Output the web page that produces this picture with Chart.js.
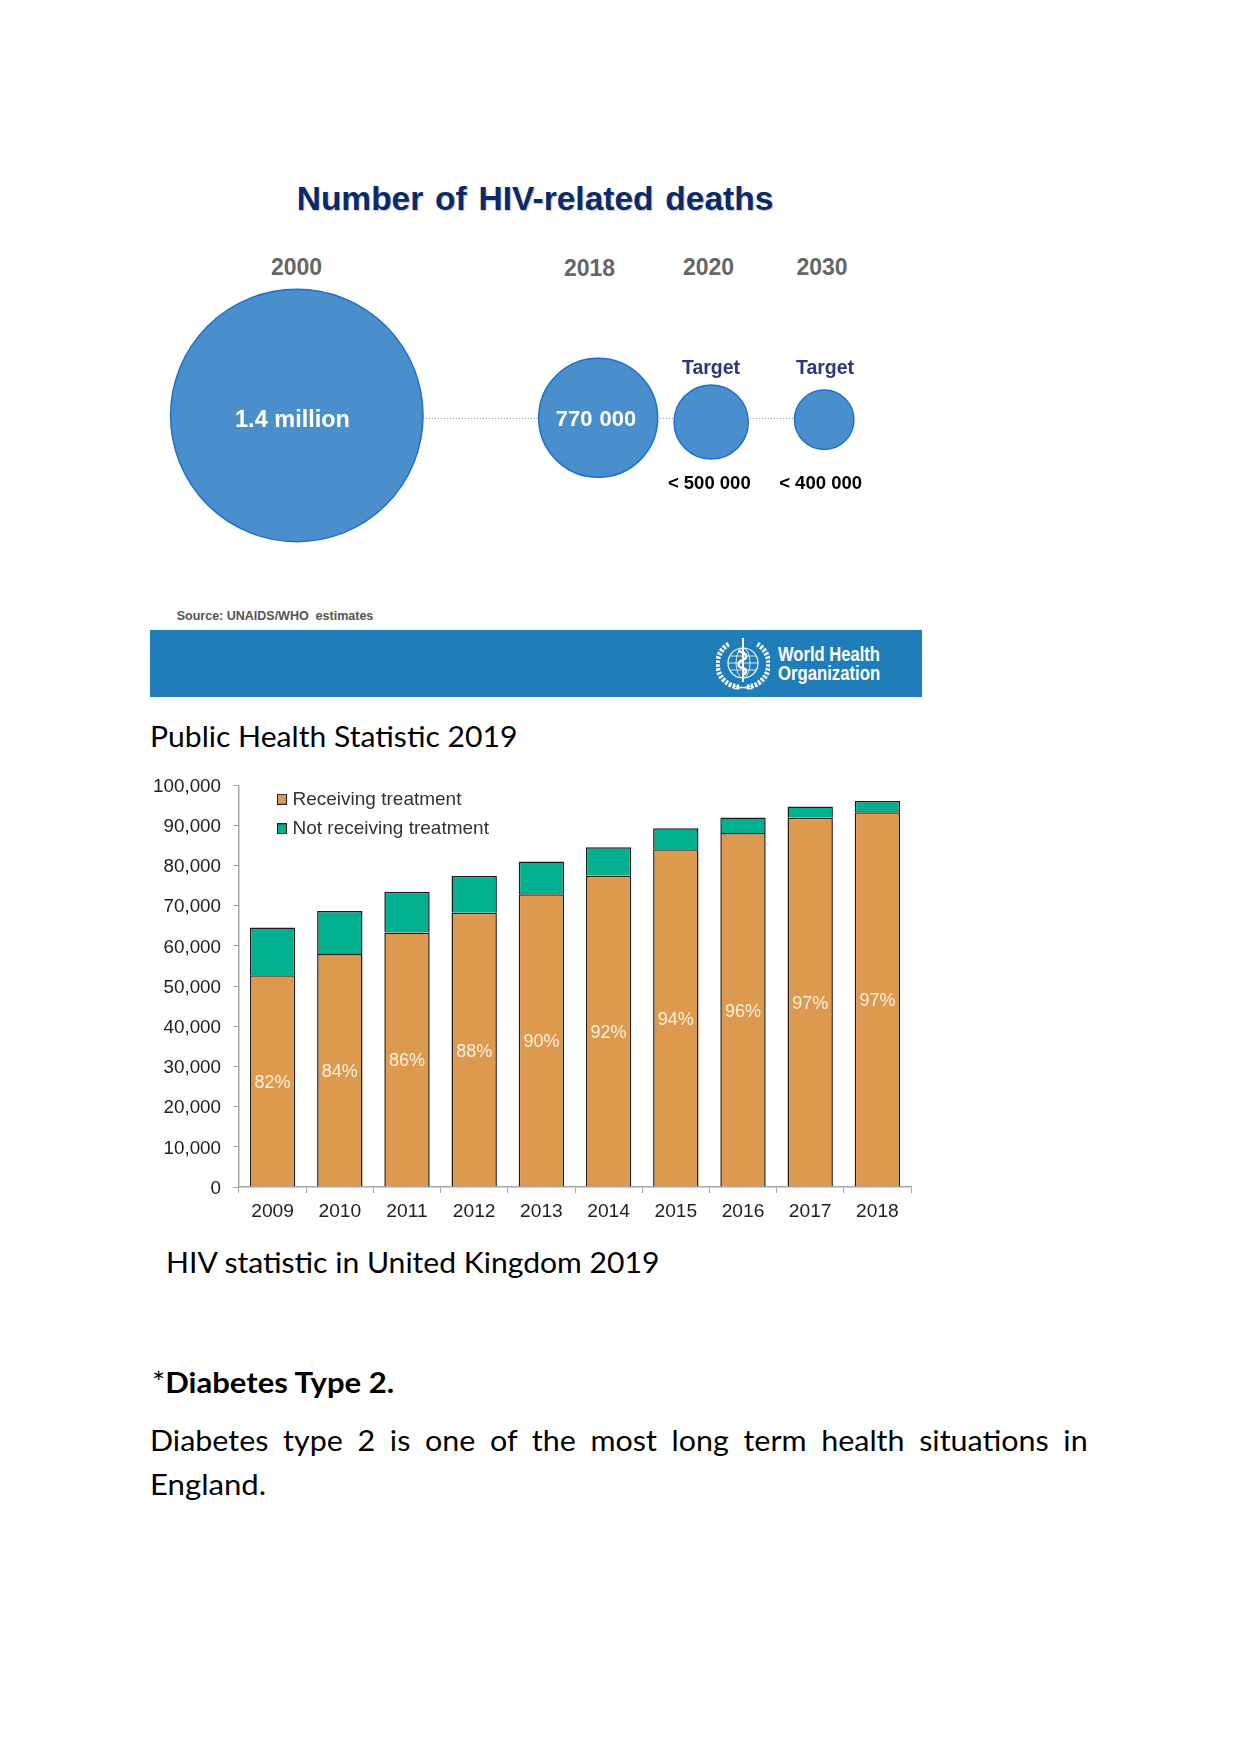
<!DOCTYPE html>
<html>
<head>
<meta charset="utf-8">
<title>HIV statistics</title>
<script src="https://cdn.jsdelivr.net/npm/chart.js@4"></script>
<style>
  html, body { margin: 0; background: #fff; }
  #page { position: relative; width: 1241px; height: 1754px; overflow: hidden; }
  #page canvas { position: absolute; }
  .t { position: absolute; white-space: pre; font-family: "Liberation Sans", Arial, sans-serif; font-weight: bold; line-height: 1; transform: translate(-50%, -50%); }
  .doc { position: absolute; white-space: pre; font-family: Lato, sans-serif; font-size: 29px; line-height: 1; color: #000; transform-origin: left center; margin-top: -15px; }
  .who { position: absolute; left: 778px; white-space: pre; font-family: "Liberation Sans", sans-serif; font-weight: bold; font-size: 19.5px; line-height: 1; color: #fff; transform-origin: left center; margin-top: -10px; }
  .year { font-size: 23px; color: #666; }
  .target { font-size: 19.5px; color: #2f3580; }
  .limit { font-size: 18.5px; color: #000; }
  .inbub { font-size: 23.5px; color: #fff; }
</style>
</head>
<body>
<div id="page">
  <div class="t" style="left:535px;top:199px;font-size:33.5px;color:#0b2a66;word-spacing:2.5px;text-shadow:1px 1px 1px rgba(60,90,160,.35)">Number of HIV-related deaths</div>

  <div class="t year" style="left:296.5px;top:267px">2000</div>
  <div class="t year" style="left:589.5px;top:268px">2018</div>
  <div class="t year" style="left:708.5px;top:267px">2020</div>
  <div class="t year" style="left:822px;top:266.5px">2030</div>

  <canvas id="deathsChart" width="770" height="280" style="left:150px;top:280px"></canvas>

  <div class="t inbub" style="left:292.5px;top:420px">1.4 million</div>
  <div class="t inbub" style="left:596px;top:419px;font-size:22px;word-spacing:1px">770 000</div>
  <div class="t target" style="left:711px;top:368px">Target</div>
  <div class="t target" style="left:825px;top:368px">Target</div>
  <div class="t limit" style="left:709.3px;top:483px">&lt; 500 000</div>
  <div class="t limit" style="left:820.6px;top:483px">&lt; 400 000</div>

  <div class="t" style="left:275px;top:616px;font-size:12.5px;color:#555">Source: UNAIDS/WHO  estimates</div>

  <div style="position:absolute;left:150px;top:630px;width:772px;height:67px;background:#1f7db9"></div>
  <svg style="position:absolute;left:716px;top:636px" width="54" height="54" viewBox="-27 -27 54 54" fill="none" stroke="#fff">
    <circle r="15" stroke-width="1.2"/>
    <ellipse rx="7" ry="15" stroke-width=".8"/>
    <path d="M-15 0H15M-13 -7H13M-13 7H13" stroke-width=".8"/>
    <path d="M0 -25V19" stroke-width="2"/>
    <path d="M-5 -12C5 -10 5 -5 0 -3C-6 -1 -6 4 0 5C4 6 4 10 0 12" stroke-width="2.4"/>
    <path d="M-4 24A23 23 0 0 1 -14 -19" stroke-width="5" stroke-dasharray="2.5 1.5"/>
    <path d="M4 24A23 23 0 0 0 14 -19" stroke-width="5" stroke-dasharray="2.5 1.5"/>
    <path d="M-9 23L9 26M9 23L-9 26" stroke-width="1.2"/>
  </svg>
  <div class="who fit" data-w="102" style="top:655px">World Health</div>
  <div class="who fit" data-w="102" style="top:673.5px">Organization</div>

  <div class="doc fit" data-w="368" style="left:150px;top:736px">Public Health Statistic 2019</div>

  <canvas id="ukChart" width="790" height="458" style="left:140px;top:762px"></canvas>

  <div class="doc fit" data-w="493" style="left:165.5px;top:1262px">HIV statistic in United Kingdom 2019</div>
  <div class="doc fit" data-w="242" style="left:152px;top:1382px">*<b>Diabetes Type 2.</b></div>
  <div class="doc" style="left:150px;top:1440px;width:893px;white-space:normal;text-align:justify;text-align-last:justify;transform:scaleX(1.05)">Diabetes type 2 is one of the most long term health situations in</div>
  <div class="doc fit" data-w="116" style="left:150px;top:1484px">England.</div>
</div>

<script>
// deaths figure
const timeline = ['2000', '', '', '', '', '', '', '', '2018', '', '', '2020', '', '', '2030'];
const bubbleYears = ['2000', '2018', '2020', '2030'];
const deaths = [1400000, 770000, 500000, 400000];

// UK figure
const years = ['2009', '2010', '2011', '2012', '2013', '2014', '2015', '2016', '2017', '2018'];
const receiving = [52700, 58000, 63350, 68250, 72900, 77450, 84100, 88150, 91900, 93300];
const notReceiving = [11900, 10700, 10150, 9150, 8100, 7150, 5200, 3850, 2800, 2800];
const percents = ['82%', '84%', '86%', '88%', '90%', '92%', '94%', '96%', '97%', '97%'];

// circle sizes and small vertical drift as drawn in the picture
const bubbleRadius = [126.2, 59.5, 37.1, 29.7];
const bubbleDrift = [4.5, 2.2, -2, 0.3];

Chart.defaults.font.family = '"Liberation Sans", Arial, sans-serif';
Chart.defaults.animation = false;

new Chart(document.getElementById('deathsChart'), {
  type: 'bubble',
  data: {
    labels: timeline,
    datasets: [
      {
        data: bubbleYears.map((y, i) => ({ x: y, y: bubbleDrift[i], deaths: deaths[i] })),
        radius: ctx => bubbleRadius[ctx.dataIndex],
        backgroundColor: '#4a8ecb',
        borderColor: '#1f6fd2',
        borderWidth: 1.5,
        clip: false,
        order: 1
      },
      {
        type: 'line',
        data: [{ x: '2000', y: 1.7 }, { x: '2030', y: 1.7 }],
        borderColor: '#7a7a7a',
        borderWidth: 1,
        borderDash: [1, 2],
        pointRadius: 0,
        clip: false,
        order: 2
      }
    ]
  },
  options: {
    responsive: false,
    layout: { autoPadding: false, padding: { left: 146.8, right: 95.8 } },
    plugins: { legend: { display: false }, tooltip: { enabled: false } },
    scales: {
      x: { type: 'category', display: false },
      y: { display: false, min: -140, max: 140 }
    }
  }
});

function swatch(color) {
  const c = document.createElement('canvas');
  c.width = 10;
  c.height = 11;
  const g = c.getContext('2d');
  g.fillStyle = color;
  g.fillRect(0, 0, 10, 11);
  g.strokeStyle = '#222';
  g.strokeRect(0.5, 0.5, 9, 10);
  return c;
}

const orange = '#dd9a4e';
const green = '#02af8e';
const swatches = [swatch(orange), swatch(green)];

// white percentages in the middle of the orange bars
const percentLabels = {
  id: 'percentLabels',
  afterDatasetsDraw(chart) {
    const ctx = chart.ctx;
    ctx.save();
    ctx.font = '18px "Liberation Sans"';
    ctx.fillStyle = '#fdf1df';
    ctx.textAlign = 'center';
    ctx.textBaseline = 'middle';
    chart.getDatasetMeta(0).data.forEach((bar, i) => {
      const p = bar.getCenterPoint();
      ctx.fillText(percents[i], p.x, p.y + 2);
    });
    ctx.restore();
  }
};

// the legend sits inside the plot, near the y axis
const moveLegend = {
  id: 'moveLegend',
  afterLayout(chart) {
    chart.legend.left = chart.chartArea.left + 31.5;
    chart.legend.top = chart.chartArea.top - 6;
  }
};

new Chart(document.getElementById('ukChart'), {
  type: 'bar',
  data: {
    labels: years,
    datasets: [
      { label: 'Receiving treatment', data: receiving, backgroundColor: orange },
      { label: 'Not receiving treatment', data: notReceiving, backgroundColor: green }
    ]
  },
  options: {
    responsive: false,
    layout: { padding: { right: 19 } },
    datasets: { bar: { barPercentage: 0.675, categoryPercentage: 1, borderColor: '#1c1c1c', borderWidth: 1.5 } },
    plugins: {
      tooltip: { enabled: false },
      legend: {
        position: 'chartArea',
        align: 'start',
        labels: {
          color: '#333',
          font: { size: 19 },
          padding: 10.5,
          usePointStyle: true,
          pointStyleWidth: 2,
          boxHeight: 10,
          generateLabels(chart) {
            return Chart.defaults.plugins.legend.labels.generateLabels(chart)
              .map((item, i) => ({ ...item, pointStyle: swatches[i] }));
          }
        }
      }
    },
    scales: {
      x: {
        stacked: true,
        afterFit(s) { s.height = 33; },
        border: { color: '#a8a8a8', width: 1.5 },
        grid: { offset: true, drawOnChartArea: false, tickColor: '#a8a8a8', tickLength: 6, tickWidth: 1 },
        ticks: { color: '#222', font: { size: 19.2 }, padding: 7, maxRotation: 0 }
      },
      y: {
        stacked: true,
        min: 0,
        max: 100000,
        afterFit(s) { s.width = 99; },
        border: { color: '#a8a8a8', width: 1.5 },
        grid: { drawOnChartArea: false, tickColor: '#a8a8a8', tickLength: 6, tickWidth: 1 },
        ticks: {
          stepSize: 10000,
          color: '#222',
          font: { size: 18.8 },
          padding: 12,
          labelOffset: 1.5,
          callback: v => v.toLocaleString('en-US')
        }
      }
    }
  },
  plugins: [percentLabels, moveLegend]
});

// squeeze the Lato lines to the widths of the original text
document.querySelectorAll('.fit').forEach(el => {
  el.style.transform = 'scaleX(' + (Number(el.dataset.w) / el.offsetWidth) + ')';
});
</script>
</body>
</html>
